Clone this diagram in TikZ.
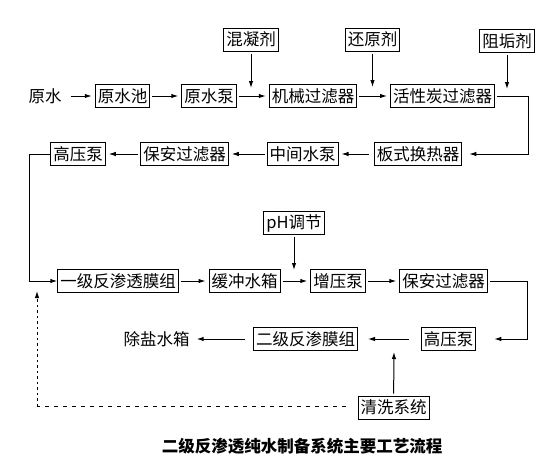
\documentclass[tikz,border=0pt]{standalone}
\usepackage{fontspec}
\newfontfamily\cjk{Noto Sans CJK SC}
\usetikzlibrary{positioning, calc}
\usetikzlibrary{arrows.meta}
\tikzset{
    box/.style={draw, line width=1pt, inner xsep=2.5pt, inner ysep=0pt,
        minimum height=23pt, font=\cjk\fontsize{16.5}{17}\selectfont},
    word/.style={inner sep=1pt, font=\cjk\fontsize{16.5}{17}\selectfont},
    flow/.style={->, line width=1pt, shorten <=2pt, shorten >=3pt},
    wash/.style={line width=1pt, dash pattern=on 4pt off 5pt},
}

\begin{document}
\begin{tikzpicture}[x=1pt, y=-1pt, >={Latex[length=7pt,width=4.5pt]}]
            \useasboundingbox (0,0) rectangle (557,469);
            % pretreatment
            \node[word] (raw) at (45,96) {原水};
            \node[box] (pool) at (122.5,96) {原水池};
            \node[box] (rawpump) at (209,96) {原水泵};
            \node[box] (mech) at (313,96) {机械过滤器};
            \node[box] (carbon) at (442.5,96) {活性炭过滤器};
            \node[box] (coag) at (251,39.5) {混凝剂};
            \node[box] (reduc) at (372.5,39.5) {还原剂};
            \node[box] (antisc) at (507,41) {阻垢剂};
            \node[box] (hex) at (418,154) {板式换热器};
            \node[box] (midpump) at (302.5,154) {中间水泵};
            \node[box] (guard1) at (184.5,154) {保安过滤器};
            \node[box] (hp1) at (78,154) {高压泵};
            % first and second pass
            \node[box] (ro1) at (118,281) {一级反渗透膜组};
            \node[box] (buffer) at (244.5,281) {缓冲水箱};
            \node[box] (boost) at (338,281) {增压泵};
            \node[box] (guard2) at (443.5,281) {保安过滤器};
            \node[box] (ph) at (294,223) {pH调节};
            \node[box] (hp2) at (448.5,339) {高压泵};
            \node[box] (ro2) at (305.5,339) {二级反渗膜组};
            \node[word] (desalt) at (156.5,339) {除盐水箱};
            \node[box] (clean) at (393.5,407.5) {清洗系统};
            \node[font=\cjk\bfseries\fontsize{16.5}{17}\selectfont] (title) at (302,446) {二级反渗透纯水制备系统主要工艺流程};

            \coordinate (c1) at (251,88);
            \coordinate (c2) at (372.5,87);
            \coordinate (c3) at (507,89);
            \coordinate (c4) at (294,270);
            \coordinate (c5) at (394,352);
            \coordinate (d1) at (37,406);
            \coordinate (d2) at (37,291);

            \draw[flow, shorten <=8pt] (raw) -- (pool);
            \draw[flow] (pool) -- (rawpump);
            \draw[flow] (rawpump) -- (mech);
            \draw[flow] (mech) -- (carbon);
            \draw[flow, shorten >=0pt] (coag) -- (c1);
            \draw[flow, shorten >=0pt] (reduc) -- (c2);
            \draw[flow, shorten >=0pt] (antisc) -- (c3);
            \draw[flow, shorten >=7pt] (carbon.east) -- ++(33,0) |- (hex.east);
            \draw[flow, shorten <=5pt] (hex) -- (midpump);
            \draw[flow] (midpump) -- (guard1);
            \draw[flow] (guard1) -- (hp1);
            \draw[flow, shorten <=0pt, shorten >=0pt] (hp1.west) -- ++(-21,0) |- (ro1.west);
            \draw[flow] (ro1) -- (buffer);
            \draw[flow] (buffer) -- (boost);
            \draw[flow] (boost) -- (guard2);
            \draw[flow, shorten >=0pt] (ph) -- (c4);
            \draw[flow, shorten >=18pt] (guard2.east) -- ++(40,0) |- (hp2.east);
            \draw[flow, shorten <=12pt, shorten >=10pt] (hp2) -- (ro2);
            \draw[flow, shorten <=8pt, shorten >=6pt] (ro2) -- (desalt);
            \draw[flow, shorten >=0pt] (clean) -- (c5);
            \draw[wash, shorten <=12pt] (clean.west |- d1) -- (d1);
            \draw[->, line width=1pt, dash pattern=on 2.5pt off 3pt] (d1) -- (d2);
        \end{tikzpicture}
\end{document}
